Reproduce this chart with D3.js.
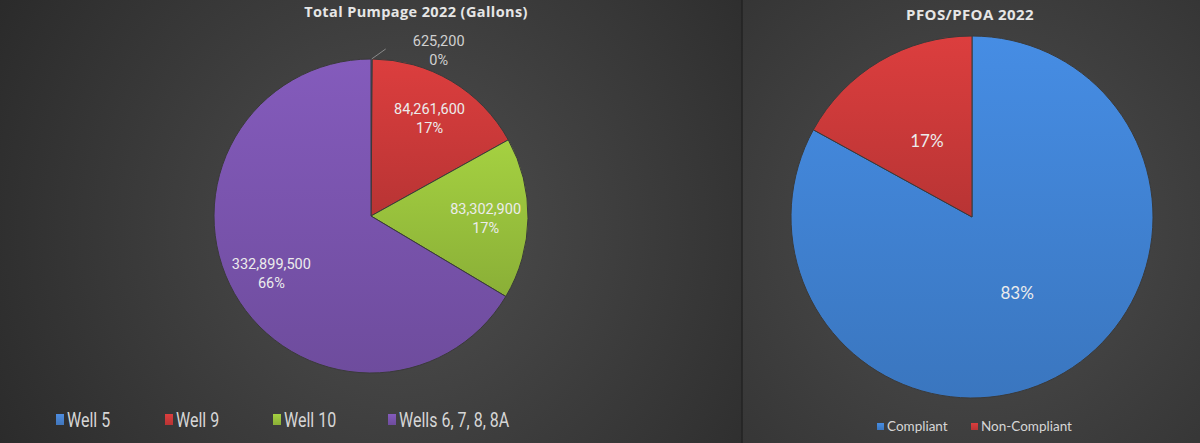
<!DOCTYPE html>
<html>
<head>
<meta charset="utf-8">
<script src="https://d3js.org/d3.v7.min.js"></script>
<style>
  body { margin: 0; background: #333; }
  svg { display: block; }
</style>
</head>
<body>
<svg id="chart" width="1200" height="443"></svg>
<script>
// data
var wells = ["Well 5", "Well 9", "Well 10", "Wells 6, 7, 8, 8A"];
var pumpage = [625200, 84261600, 83302900, 332899500];
var wellColors = ["#4a86d4", "#d13b3b", "#9cc63e", "#7d56b2"];

var compliance = ["Compliant", "Non-Compliant"];
var compliancePct = [83, 17];
var complianceColors = ["#4286d8", "#d13b3b"];

var svg = d3.select("#chart");
var defs = svg.append("defs");

// panel backgrounds
function panelBg(id, x, w, cx, cy) {
  var g = defs.append("radialGradient").attr("id", id)
      .attr("gradientUnits", "userSpaceOnUse")
      .attr("cx", cx).attr("cy", cy).attr("r", 520);
  g.append("stop").attr("offset", "0").attr("stop-color", "#4f4f4f");
  g.append("stop").attr("offset", "1").attr("stop-color", "#262626");
  svg.append("rect").attr("x", x).attr("y", 0).attr("width", w).attr("height", 443)
      .attr("fill", "url(#" + id + ")");
}
panelBg("bgL", 0, 742, 400, 230);
panelBg("bgR", 742, 458, 975, 230);
svg.append("line").attr("x1", 742).attr("x2", 742).attr("y1", 0).attr("y2", 443)
    .attr("stroke", "#232323").attr("stroke-width", 1.5);

// slice gradients
function sliceGrad(id, c) {
  var g = defs.append("linearGradient").attr("id", id)
      .attr("x1", 0).attr("y1", 0).attr("x2", 0).attr("y2", 1);
  g.append("stop").attr("offset", "0").attr("stop-color", d3.color(c).brighter(0.15));
  g.append("stop").attr("offset", "1").attr("stop-color", d3.color(c).darker(0.35));
}
wellColors.forEach(function(c, i){ sliceGrad("gw" + i, c); });
complianceColors.forEach(function(c, i){ sliceGrad("gs" + i, c); });

var pie = d3.pie().sort(null).value(function(d){ return d; });

// ---------- left pie ----------
var L = {cx: 371, cy: 216, r: 157};
var arcL = d3.arc().innerRadius(0).outerRadius(L.r);
var labelArcL = d3.arc().innerRadius(L.r * 0.73).outerRadius(L.r * 0.73);
var outerArcL = d3.arc().innerRadius(L.r + 12).outerRadius(L.r + 12);
var edgeArcL = d3.arc().innerRadius(L.r).outerRadius(L.r);
var total = d3.sum(pumpage);
var fmt = d3.format(",");

var gL = svg.append("g").attr("transform", "translate(" + L.cx + "," + L.cy + ")");
var slicesL = pie(pumpage);

gL.selectAll("path").data(slicesL).enter().append("path")
    .attr("d", arcL)
    .attr("fill", function(d, i){ return "url(#gw" + i + ")"; })
    .attr("stroke", "#3a3a3a").attr("stroke-width", 1);

slicesL.forEach(function(d, i) {
  var pct = Math.round(d.value / total * 100) + "%";
  var small = d.value / total < 0.02;
  var p;
  if (small) {
    // tiny slice: label outside with a leader line
    var e = edgeArcL.centroid(d), o = outerArcL.centroid(d);
    p = [o[0] + 67, o[1] + 3];
    gL.append("polyline")
        .attr("points", [e, [o[0] + 14, o[1] + 2]].map(function(q){ return q.join(","); }).join(" "))
        .attr("fill", "none").attr("stroke", "#8a8a8a").attr("stroke-width", 1);
  } else {
    p = labelArcL.centroid(d);
  }
  var t = gL.append("text")
      .attr("x", p[0]).attr("y", p[1])
      .attr("text-anchor", "middle")
      .style("font-family", "Roboto, sans-serif")
      .style("font-size", "14.5px")
      .attr("fill", small ? "#d0d0d0" : "#ececec");
  t.append("tspan").attr("x", p[0]).attr("dy", "-0.25em").text(fmt(d.value));
  t.append("tspan").attr("x", p[0]).attr("dy", "1.3em").text(pct);
});

svg.append("text").attr("x", 416).attr("y", 17).attr("text-anchor", "middle")
    .style("font-family", "'Open Sans', sans-serif").style("font-weight", "700")
    .style("font-size", "14.5px").style("letter-spacing", "0.4px")
    .attr("fill", "#e6e6e6").text("Total Pumpage 2022 (Gallons)");

// left legend (condensed look)
var legX = d3.scaleOrdinal().domain(wells).range([56, 165, 273, 388]);
var legL = svg.append("g").selectAll("g").data(wells).enter().append("g")
    .attr("transform", function(d){ return "translate(" + legX(d) + ",420)"; });
legL.append("rect").attr("x", 0).attr("y", -6).attr("width", 8).attr("height", 11)
    .attr("fill", function(d, i){ return "url(#gw" + i + ")"; });
legL.append("text")
    .attr("transform", "translate(11,7) scale(0.8,1)")
    .style("font-family", "Roboto, sans-serif").style("font-size", "20px")
    .attr("fill", "#d6d6d6").text(function(d){ return d; });

// ---------- right pie ----------
var R = {cx: 972, cy: 217, r: 181};
var arcR = d3.arc().innerRadius(0).outerRadius(R.r);
var labelArcR = d3.arc().innerRadius(R.r * 0.49).outerRadius(R.r * 0.49);
var gR = svg.append("g").attr("transform", "translate(" + R.cx + "," + R.cy + ")");
var slicesR = pie(compliancePct);

gR.selectAll("path").data(slicesR).enter().append("path")
    .attr("d", arcR)
    .attr("fill", function(d, i){ return "url(#gs" + i + ")"; })
    .attr("stroke", "#3a3a3a").attr("stroke-width", 1);

gR.selectAll("text").data(slicesR).enter().append("text")
    .attr("transform", function(d){ return "translate(" + labelArcR.centroid(d) + ")"; })
    .attr("dy", "0.35em").attr("text-anchor", "middle")
    .style("font-family", "Lato, sans-serif").style("font-size", "17px")
    .attr("fill", "#ececec").text(function(d){ return d.value + "%"; });

svg.append("text").attr("x", 970).attr("y", 20).attr("text-anchor", "middle")
    .style("font-family", "'Open Sans', sans-serif").style("font-weight", "700")
    .style("font-size", "15px").style("letter-spacing", "0.4px")
    .attr("fill", "#e6e6e6").text("PFOS/PFOA 2022");

var legRX = d3.scaleOrdinal().domain(compliance).range([877, 971]);
var legR = svg.append("g").selectAll("g").data(compliance).enter().append("g")
    .attr("transform", function(d){ return "translate(" + legRX(d) + ",426)"; });
legR.append("rect").attr("x", 0).attr("y", -3).attr("width", 7).attr("height", 7)
    .attr("fill", function(d, i){ return "url(#gs" + i + ")"; });
legR.append("text").attr("x", 10).attr("y", 4.5)
    .style("font-family", "Lato, sans-serif").style("font-size", "13.5px")
    .attr("fill", "#d6d6d6").text(function(d){ return d; });
</script>
</body>
</html>
